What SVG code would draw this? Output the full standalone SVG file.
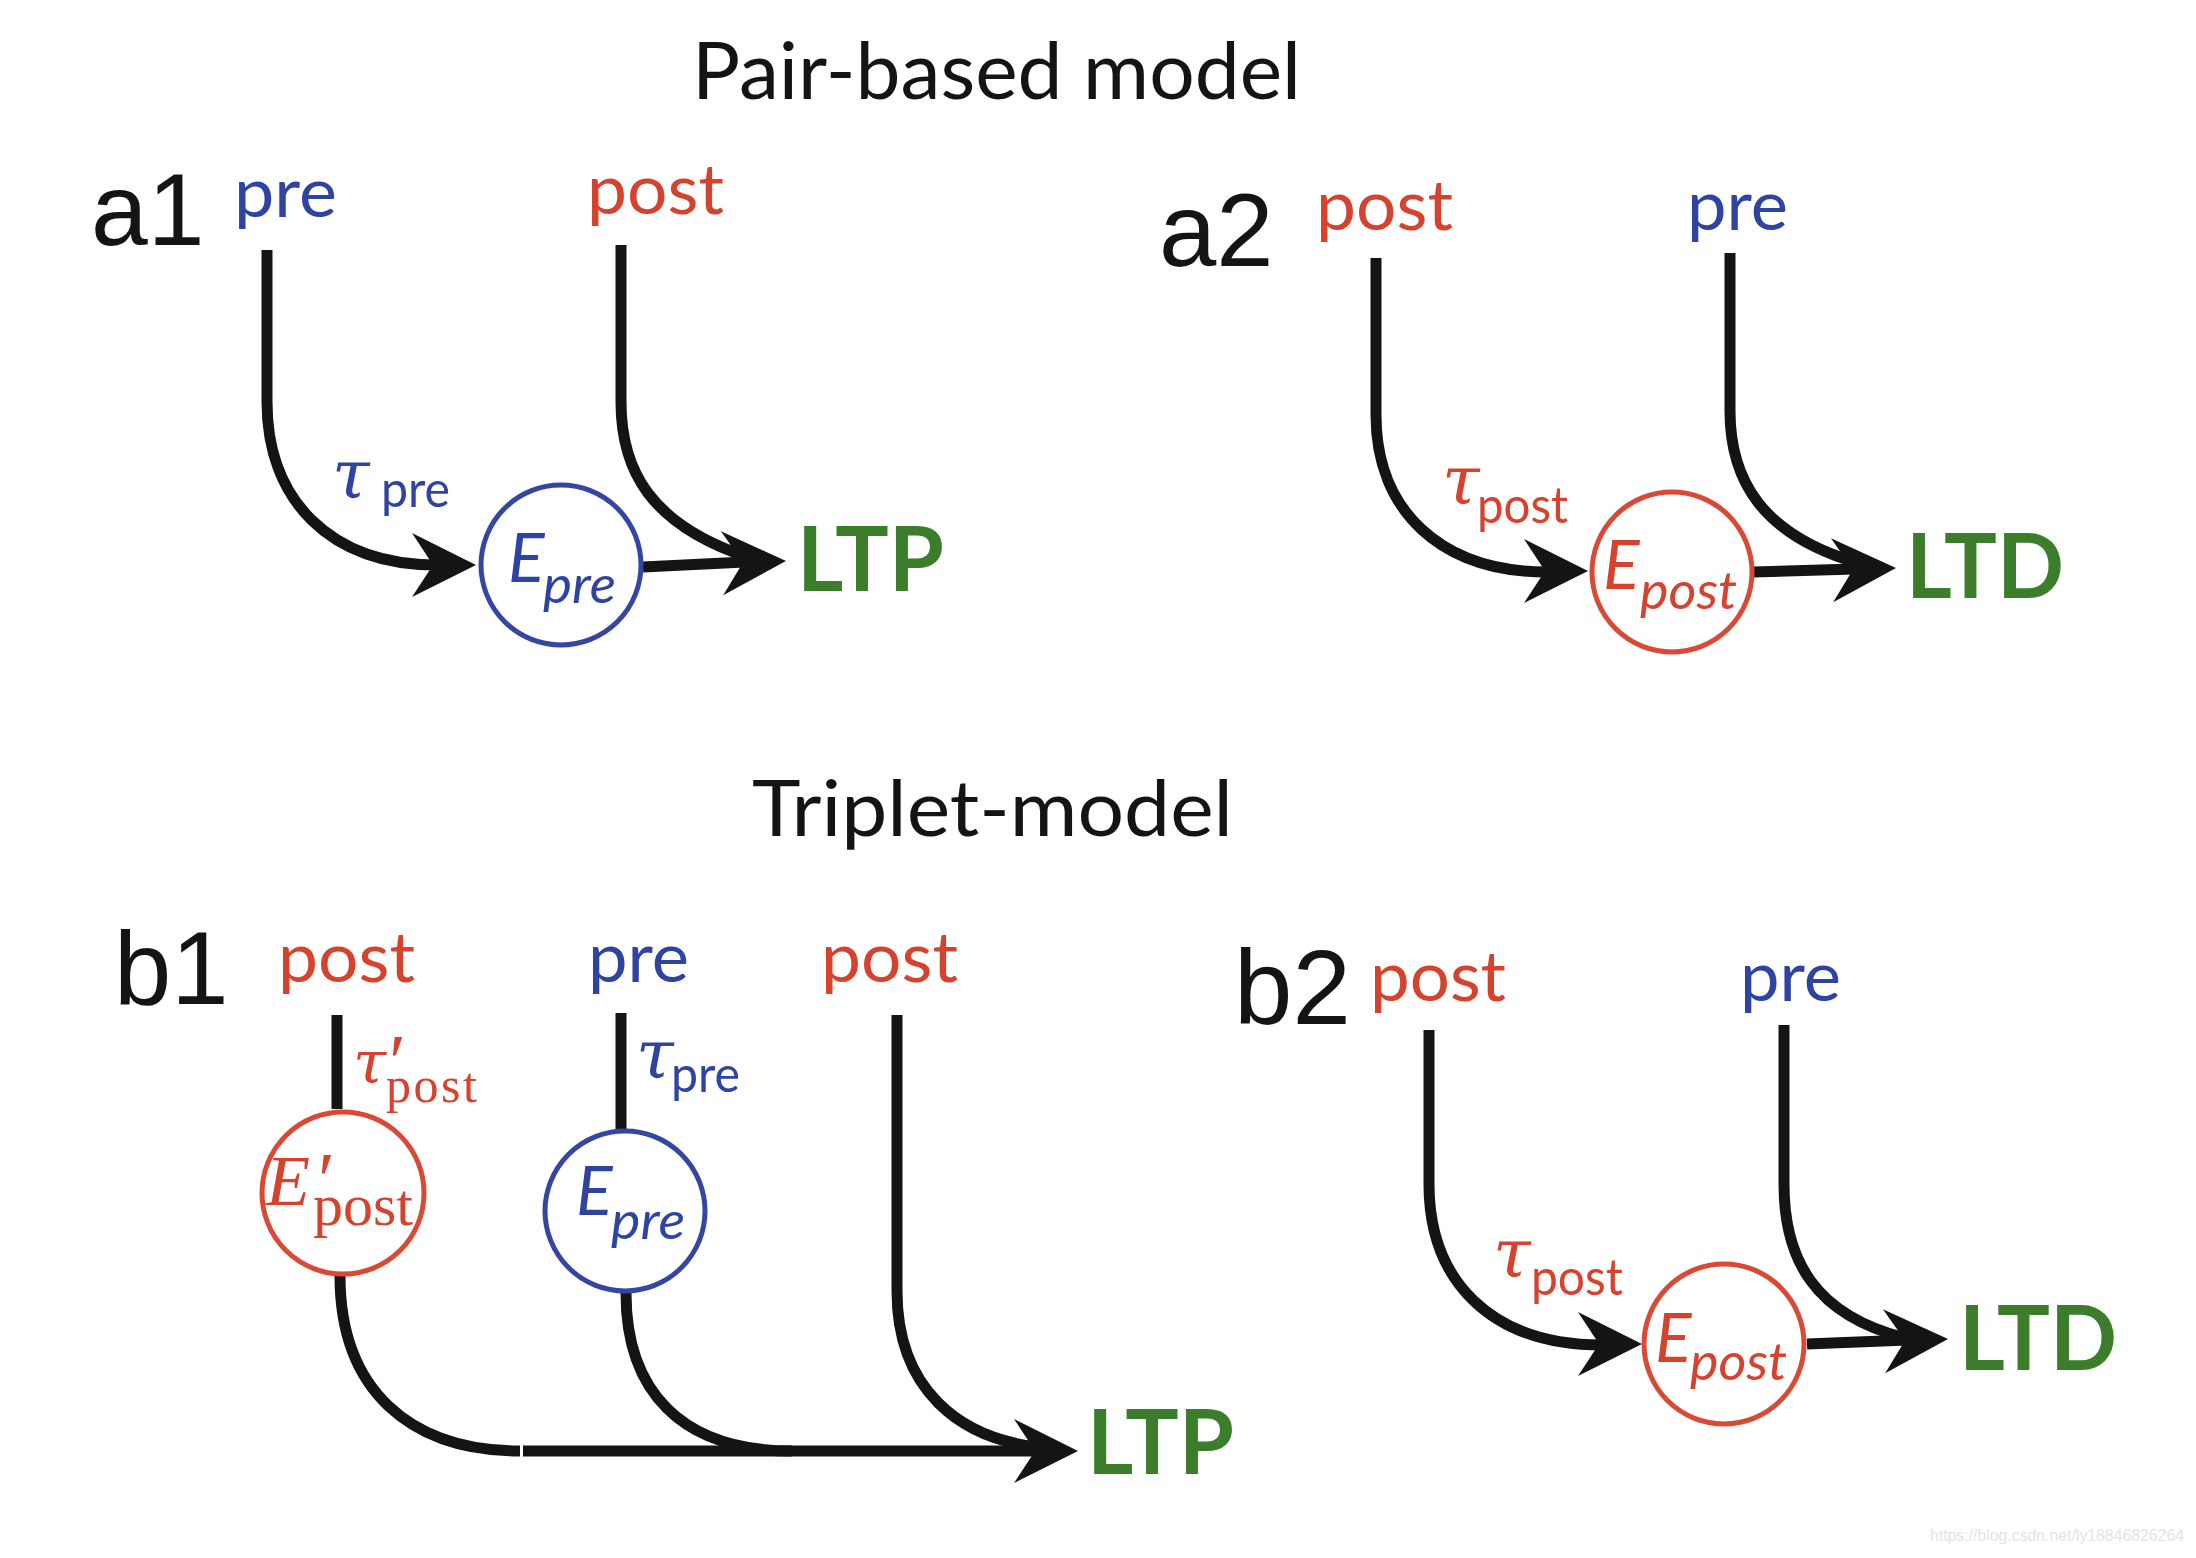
<svg xmlns="http://www.w3.org/2000/svg" xmlns:xlink="http://www.w3.org/1999/xlink" width="2196" height="1558" viewBox="0 0 2196 1558">
<style>
.bg{fill:#ffffff}
.lab{font-family:"Liberation Sans",Arial,sans-serif;fill:#141414}
.title{font-family:Lato,"Open Sans",sans-serif;fill:#141414}
.sans{font-family:Lato,"Open Sans",sans-serif}
.serif{font-family:"Liberation Serif","DejaVu Serif",serif}
.tau{font-family:"DejaVu Serif","Liberation Serif",serif;font-style:italic}
.blue{fill:#2F43A0}
.red{fill:#D5432F}
.green{fill:#3B7D2A;font-family:Lato,"Open Sans",sans-serif;font-weight:bold;font-size:89px}
.big{font-size:70px}
.sub{font-size:50px}
.it{font-style:italic}
.conn{fill:none;stroke:#141414;stroke-width:11}
.cb{fill:none;stroke:#3446A1;stroke-width:5}
.cr{fill:none;stroke:#D84A36;stroke-width:5}
.wm{font-family:"Liberation Sans",Arial,sans-serif;font-size:17px;fill:#e4e4e4}
</style>
<defs>
<path id="ah" d="M0 0 L-64 -32 L-43 0 L-64 32 Z" fill="#141414"/>
</defs>
<rect class="bg" x="0" y="0" width="2196" height="1558"/>

<g id="titles">
<text class="title" x="692" y="99" font-size="80" textLength="609" lengthAdjust="spacingAndGlyphs">Pair-based model</text>
<text class="title" x="752" y="836" font-size="77" textLength="481" lengthAdjust="spacingAndGlyphs">Triplet-model</text>
</g>

<g id="panel-labels">
<text class="lab" x="91" y="245" font-size="102">a1</text>
<text class="lab" x="1159" y="266" font-size="103">a2</text>
<text class="lab" x="114" y="1004" font-size="103">b1</text>
<text class="lab" x="1234" y="1024" font-size="105">b2</text>
</g>

<g id="connectors">
<!-- a1 -->
<path class="conn" d="M267 250 V402 C267 500 330 565 437 565"/>
<use xlink:href="#ah" href="#ah" transform="translate(476 565)"/>
<path class="conn" d="M621 245 V402 C621 470 650 525 750 558"/>
<path class="conn" d="M643 567 L745 562"/>
<use xlink:href="#ah" href="#ah" transform="translate(786 561) rotate(-2)"/>
<!-- a2 -->
<path class="conn" d="M1376 258 V415 C1376 510 1440 572 1547 572"/>
<use xlink:href="#ah" href="#ah" transform="translate(1588 571)"/>
<path class="conn" d="M1730 253 V411 C1730 480 1762 535 1858 563"/>
<path class="conn" d="M1753 572 L1855 569"/>
<use xlink:href="#ah" href="#ah" transform="translate(1896 568) rotate(-2)"/>
<!-- b1 -->
<path class="conn" d="M337 1015 V1109"/>
<path class="conn" d="M621 1013 V1129"/>
<path class="conn" d="M340 1276 C340 1390 410 1451 520 1451"/>
<path class="conn" d="M523 1451 H1036"/>
<path class="conn" d="M626 1293 C626 1390 680 1451 792 1451"/>
<path class="conn" d="M897 1015 V1291 C897 1390 960 1438 1037 1447"/>
<use xlink:href="#ah" href="#ah" transform="translate(1078 1451)"/>
<!-- b2 -->
<path class="conn" d="M1429 1030 V1184 C1429 1280 1490 1345 1602 1345"/>
<use xlink:href="#ah" href="#ah" transform="translate(1642 1344)"/>
<path class="conn" d="M1784 1025 V1184 C1784 1260 1815 1315 1905 1338"/>
<path class="conn" d="M1807 1344 L1908 1340"/>
<use xlink:href="#ah" href="#ah" transform="translate(1948 1339) rotate(-2)"/>
</g>

<!-- a1 nodes -->
<g id="a1-pre"><text class="sans big blue" x="234" y="217" textLength="103" lengthAdjust="spacingAndGlyphs">pre</text></g>
<g id="a1-post"><text class="sans big red" x="587" y="214" textLength="137" lengthAdjust="spacingAndGlyphs">post</text></g>
<g id="a1-tau">
<text class="tau blue" x="332" y="498" font-size="68">τ</text>
<text class="sans sub blue" x="381" y="507" textLength="69" lengthAdjust="spacingAndGlyphs">pre</text>
</g>
<g id="a1-Epre">
<circle class="cb" cx="561" cy="565" r="80"/>
<text class="sans it blue" x="508" y="582" font-size="68">E</text>
<text class="sans it blue" x="543" y="603" font-size="52" textLength="73" lengthAdjust="spacingAndGlyphs">pre</text>
</g>
<g id="a1-LTP"><text class="green" x="797" y="591" textLength="147" lengthAdjust="spacingAndGlyphs">LTP</text></g>

<!-- a2 nodes -->
<g id="a2-post"><text class="sans big red" x="1316" y="230" textLength="137" lengthAdjust="spacingAndGlyphs">post</text></g>
<g id="a2-pre"><text class="sans big blue" x="1687" y="230" textLength="101" lengthAdjust="spacingAndGlyphs">pre</text></g>
<g id="a2-tau">
<text class="tau red" x="1442" y="504" font-size="68">τ</text>
<text class="sans sub red" x="1477" y="523" textLength="91" lengthAdjust="spacingAndGlyphs">post</text>
</g>
<g id="a2-Epost">
<circle class="cr" cx="1672" cy="572" r="80"/>
<text class="sans it red" x="1603" y="589" font-size="68">E</text>
<text class="sans it red" x="1640" y="609" font-size="52" textLength="97" lengthAdjust="spacingAndGlyphs">post</text>
</g>
<g id="a2-LTD"><text class="green" x="1906" y="598" textLength="158" lengthAdjust="spacingAndGlyphs">LTD</text></g>

<!-- b1 nodes -->
<g id="b1-post1"><text class="sans big red" x="278" y="982" textLength="137" lengthAdjust="spacingAndGlyphs">post</text></g>
<g id="b1-pre"><text class="sans big blue" x="588" y="982" textLength="101" lengthAdjust="spacingAndGlyphs">pre</text></g>
<g id="b1-post2"><text class="sans big red" x="821" y="982" textLength="137" lengthAdjust="spacingAndGlyphs">post</text></g>
<g id="b1-tau-post">
<text class="serif red"><tspan class="tau" x="353" y="1083" font-size="60">τ</tspan><tspan x="389" y="1088" font-size="78">′</tspan><tspan x="386" y="1102" font-size="50" letter-spacing="2.5">post</tspan></text>
</g>
<g id="b1-tau-pre">
<text class="tau blue" x="636" y="1078" font-size="68">τ</text>
<text class="sans sub blue" x="671" y="1092" textLength="69" lengthAdjust="spacingAndGlyphs">pre</text>
</g>
<g id="b1-Epost">
<circle class="cr" cx="343" cy="1193" r="81"/>
<text class="serif red"><tspan x="266" y="1205" font-style="italic" font-size="72">E</tspan><tspan x="318" y="1206" font-size="78">′</tspan><tspan x="313" y="1225" font-size="60">post</tspan></text>
</g>
<g id="b1-Epre">
<circle class="cb" cx="625" cy="1211" r="80"/>
<text class="sans it blue" x="576" y="1215" font-size="68">E</text>
<text class="sans it blue" x="611" y="1239" font-size="52" textLength="74" lengthAdjust="spacingAndGlyphs">pre</text>
</g>
<g id="b1-LTP"><text class="green" x="1087" y="1474" textLength="147" lengthAdjust="spacingAndGlyphs">LTP</text></g>

<!-- b2 nodes -->
<g id="b2-post"><text class="sans big red" x="1370" y="1001" textLength="136" lengthAdjust="spacingAndGlyphs">post</text></g>
<g id="b2-pre"><text class="sans big blue" x="1740" y="1001" textLength="101" lengthAdjust="spacingAndGlyphs">pre</text></g>
<g id="b2-tau">
<text class="tau red" x="1493" y="1277" font-size="68">τ</text>
<text class="sans sub red" x="1531" y="1295" textLength="92" lengthAdjust="spacingAndGlyphs">post</text>
</g>
<g id="b2-Epost">
<circle class="cr" cx="1724" cy="1344" r="80"/>
<text class="sans it red" x="1655" y="1362" font-size="68">E</text>
<text class="sans it red" x="1690" y="1380" font-size="52" textLength="97" lengthAdjust="spacingAndGlyphs">post</text>
</g>
<g id="b2-LTD"><text class="green" x="1959" y="1370" textLength="158" lengthAdjust="spacingAndGlyphs">LTD</text></g>

<g id="watermark"><text class="wm" x="1930" y="1541" textLength="254" lengthAdjust="spacingAndGlyphs">https://blog.csdn.net/ly18846826264</text></g>
</svg>
